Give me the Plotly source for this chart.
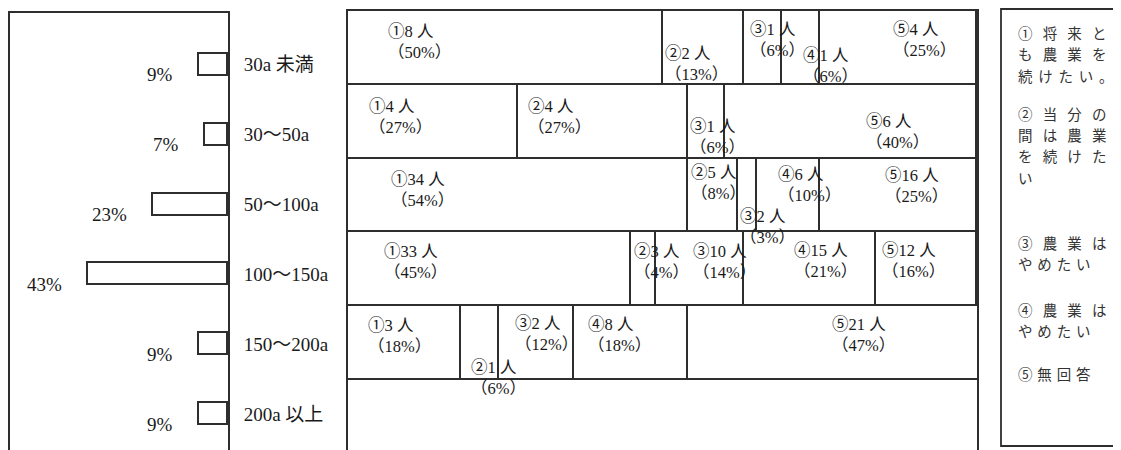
import plotly.graph_objects as go

# ---------------- data ----------------
# left panel: share of farms by cultivated area
area_labels = ["30a 未満", "30～50a", "50～100a", "100～150a", "150～200a", "200a 以上"]
area_pct = [9, 7, 23, 43, 9, 9]

# middle panel: answers by area class (people and %)
answer_marks = ["①", "②", "③", "④", "⑤"]
people_1 = [8, 4, 34, 33, 3]
pct_1 = [50, 27, 54, 45, 18]
people_2 = [2, 4, 5, 3, 1]
pct_2 = [13, 27, 8, 4, 6]
people_3 = [1, 1, 2, 10, 2]
pct_3 = [6, 6, 3, 14, 12]
people_4 = [1, None, 6, 15, 8]
pct_4 = [6, None, 10, 21, 18]
people_5 = [4, 6, 16, 12, 21]
pct_5 = [25, 40, 25, 16, 47]

# legend text lines (wide and narrow letter spacing)
WS = "\u2002\u2009"
NS = "\u2004\u200a"
legend_lines = [
    WS.join("①将来と"),
    WS.join("も農業を"),
    NS.join("続けたい。"),
    WS.join("②当分の"),
    WS.join("間は農業"),
    WS.join("を続けた"),
    "い",
    WS.join("③農業は"),
    "\u2004".join("やめたい"),
    WS.join("④農業は"),
    "\u2004".join("やめたい"),
    "\u2004".join("⑤無回答"),
]

# ---------------- page geometry / styles ----------------
OX, OY = 8, 8          # body margin of the html page
PW, PH = 1113, 442     # figure size so it fills the 1121x450 window


def px2x(x):
    return (x - OX) / PW


def px2y(y):
    return 1 - (y - OY) / PH


LINE = "#2e2e2e"
TXT = "#1a1a1a"
SERIF = "'Liberation Serif', 'Noto Sans CJK JP', serif"
SANS = "'Noto Sans CJK JP', sans-serif"
LW = 1.8

# fraction into the cell where the label starts, and px offset from row top
label_frac = [
    [0.12, 0.0, 0.09, 0.50, 0.45],
    [0.11, 0.05, 0.0, None, 0.55],
    [0.12, 0.02, 0.0, 0.30, 0.40],
    [0.12, 0.05, 0.40, 0.36, 0.04],
    [0.16, 0.20, 0.18, 0.10, 0.48],
]
label_dy = [
    [31.5, 53, 29, 55, 29],
    [32.5, 32.5, 52.5, None, 47],
    [31, 24, 68, 26, 27],
    [30, 30, 30, 28.5, 28.5],
    [30, 72, 28, 29, 29],
]
legend_y_px = [32, 53.5, 75, 113, 134.5, 156, 177.5, 242, 263.5, 309, 330.5, 373]

people = [people_1, people_2, people_3, people_4, people_5]
pcts = [pct_1, pct_2, pct_3, pct_4, pct_5]

fig = go.Figure()

# left panel bars
fig.add_trace(go.Bar(
    orientation="h", y=list(range(len(area_pct))), x=area_pct,
    width=0.315, xaxis="x", yaxis="y",
    marker=dict(color="white", line=dict(color=LINE, width=LW)),
    hoverinfo="skip", showlegend=False,
))

# middle panel stacked cells
n_rows = len(pct_1)
for k in range(5):
    fig.add_trace(go.Bar(
        orientation="h", y=list(range(n_rows)), x=pcts[k],
        width=1, xaxis="x2", yaxis="y2",
        marker=dict(color="white", line=dict(color=LINE, width=LW)),
        hoverinfo="skip", showlegend=False,
    ))

annotations = []

# left panel percent labels
for i, v in enumerate(area_pct):
    annotations.append(dict(
        x=v, y=i, xref="x", yref="y", text=f"{v}%", showarrow=False,
        xanchor="right", yanchor="middle", xshift=-24, yshift=-10,
        font=dict(family=SERIF, size=19, color=TXT),
    ))

# middle panel cell labels
for r in range(n_rows):
    start = 0
    for k in range(5):
        p = pcts[k][r]
        if p is None:
            continue
        x = start + label_frac[r][k] * p
        annotations.append(dict(
            x=x, y=r - 0.5, xref="x2", yref="y2",
            text=f"{answer_marks[k]}{people[k][r]} 人<br>（{p}%）",
            showarrow=False, xanchor="left", yanchor="middle", align="left",
            yshift=-label_dy[r][k],
            font=dict(family=SERIF, size=16.5, color=TXT),
        ))
        start += p

# legend texts
for t, ypx in zip(legend_lines, legend_y_px):
    annotations.append(dict(
        x=px2x(1017), y=px2y(ypx), xref="paper", yref="paper", text=t,
        showarrow=False, xanchor="left", yanchor="middle", align="left",
        borderpad=0,
        font=dict(family=SANS, size=14.5, color="#333333"),
    ))

shapes = [dict(
    type="rect", xref="paper", yref="paper",
    x0=px2x(1001), x1=1.02, y0=px2y(446), y1=px2y(9),
    line=dict(color=LINE, width=LW), fillcolor="rgba(0,0,0,0)",
)]

fig.update_layout(
    width=PW, height=PH, margin=dict(l=0, r=0, t=0, b=0),
    paper_bgcolor="white", plot_bgcolor="white",
    barmode="stack", bargap=0, showlegend=False,
    annotations=annotations, shapes=shapes,
    xaxis=dict(
        domain=[px2x(10), px2x(228)], range=[66.9, 0], side="top",
        showline=True, linecolor=LINE, linewidth=LW, mirror=False,
        showgrid=False, zeroline=False, showticklabels=False, ticks="",
        anchor="y", fixedrange=True,
    ),
    yaxis=dict(
        domain=[0, px2y(13)], range=[5.512, -0.74], side="right",
        showline=True, linecolor=LINE, linewidth=LW, mirror=True,
        showgrid=False, zeroline=False, ticks="",
        tickvals=list(range(len(area_labels))), ticktext=area_labels,
        ticklabelstandoff=10,
        tickfont=dict(family=SERIF, size=19, color=TXT),
        anchor="x", fixedrange=True,
    ),
    xaxis2=dict(
        domain=[px2x(348), px2x(977)], range=[0, 100], side="top",
        showline=True, linecolor=LINE, linewidth=LW, mirror=False,
        showgrid=False, zeroline=False, showticklabels=False, ticks="",
        anchor="y2", fixedrange=True,
    ),
    yaxis2=dict(
        domain=[0, px2y(11)], range=[5.448, -0.5],
        showline=True, linecolor=LINE, linewidth=LW, mirror=True,
        showgrid=False, zeroline=False, showticklabels=False, ticks="",
        anchor="x2", fixedrange=True,
    ),
)

fig.write_html("out.html", config={"displayModeBar": False})
